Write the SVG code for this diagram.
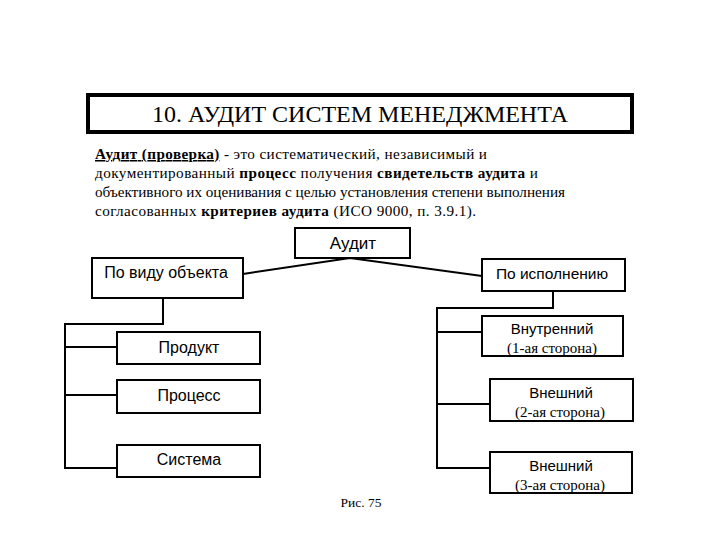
<svg xmlns="http://www.w3.org/2000/svg" width="720" height="540" viewBox="0 0 720 540">
<style>
.box{fill:#fff;stroke:#000;stroke-width:2}
.ln{fill:none;stroke:#000;stroke-width:2}
.sans{font-family:"Liberation Sans",Arial,sans-serif;fill:#000}
.serif{font-family:"Liberation Serif","Times New Roman",serif;fill:#000}
.b{font-weight:bold}
</style>
<rect width="720" height="540" fill="#fff"/>
<g id="title">
<rect x="88" y="95" width="544" height="37" fill="#fff" stroke="#000" stroke-width="4"/>
<text class="serif" x="360" y="122" font-size="24" text-anchor="middle" textLength="416" lengthAdjust="spacing">10. АУДИТ СИСТЕМ МЕНЕДЖМЕНТА</text>
</g>
<g id="definition" class="serif" font-size="15.2">
<text x="95" y="159" textLength="392" lengthAdjust="spacing"><tspan class="b" text-decoration="underline">Аудит (проверка)</tspan> - это систематический, независимый и</text>
<text x="95" y="178" textLength="443" lengthAdjust="spacing">документированный <tspan class="b">процесс</tspan> получения <tspan class="b">свидетельств аудита</tspan> и</text>
<text x="95" y="197" textLength="470" lengthAdjust="spacing">объективного их оценивания с целью установления степени выполнения</text>
<text x="95" y="216" textLength="381" lengthAdjust="spacing">согласованных <tspan class="b">критериев аудита</tspan> (ИСО 9000, п. 3.9.1).</text>
</g>
<g id="connectors">
<polyline class="ln" points="243,274 350,258 482,276"/>
<polyline class="ln" points="163,298 163,324 65,324 65,468 117,468"/>
<line class="ln" x1="65" y1="347" x2="117" y2="347"/>
<line class="ln" x1="65" y1="395" x2="117" y2="395"/>
<polyline class="ln" points="553,291 553,308 437,308 437,468 490,468"/>
<line class="ln" x1="437" y1="332" x2="482" y2="332"/>
<line class="ln" x1="437" y1="404" x2="490" y2="404"/>
</g>
<g id="audit">
<rect class="box" x="295" y="228" width="115" height="30"/>
<text class="sans" x="353" y="249" font-size="17" text-anchor="middle">Аудит</text>
</g>
<g id="by-object">
<rect class="box" x="92" y="258" width="151" height="40"/>
<text class="sans" x="166" y="278" font-size="16" text-anchor="middle">По виду объекта</text>
</g>
<g id="by-performer">
<rect class="box" x="482" y="259" width="143" height="32"/>
<text class="sans" x="552" y="279" font-size="15.5" text-anchor="middle">По исполнению</text>
</g>
<g id="product">
<rect class="box" x="117" y="332" width="143" height="32"/>
<text class="sans" x="189" y="353" font-size="16" text-anchor="middle">Продукт</text>
</g>
<g id="process">
<rect class="box" x="117" y="380" width="143" height="33"/>
<text class="sans" x="189" y="401" font-size="16" text-anchor="middle">Процесс</text>
</g>
<g id="system">
<rect class="box" x="117" y="445" width="143" height="32"/>
<text class="sans" x="189" y="465" font-size="16" text-anchor="middle">Система</text>
</g>
<g id="internal">
<rect class="box" x="482" y="316" width="141" height="40"/>
<text class="sans" x="552" y="334" font-size="15" text-anchor="middle">Внутренний</text>
<text class="serif" x="552" y="353" font-size="15" text-anchor="middle">(1-ая сторона)</text>
</g>
<g id="external2">
<rect class="box" x="490" y="379" width="143" height="42"/>
<text class="sans" x="561" y="398" font-size="15" text-anchor="middle">Внешний</text>
<text class="serif" x="560" y="417" font-size="15" text-anchor="middle">(2-ая сторона)</text>
</g>
<g id="external3">
<rect class="box" x="490" y="452" width="142" height="41"/>
<text class="sans" x="561" y="471" font-size="15" text-anchor="middle">Внешний</text>
<text class="serif" x="560" y="490" font-size="15" text-anchor="middle">(3-ая сторона)</text>
</g>
<text class="serif" x="361" y="507" font-size="13.5" text-anchor="middle">Рис. 75</text>
</svg>
